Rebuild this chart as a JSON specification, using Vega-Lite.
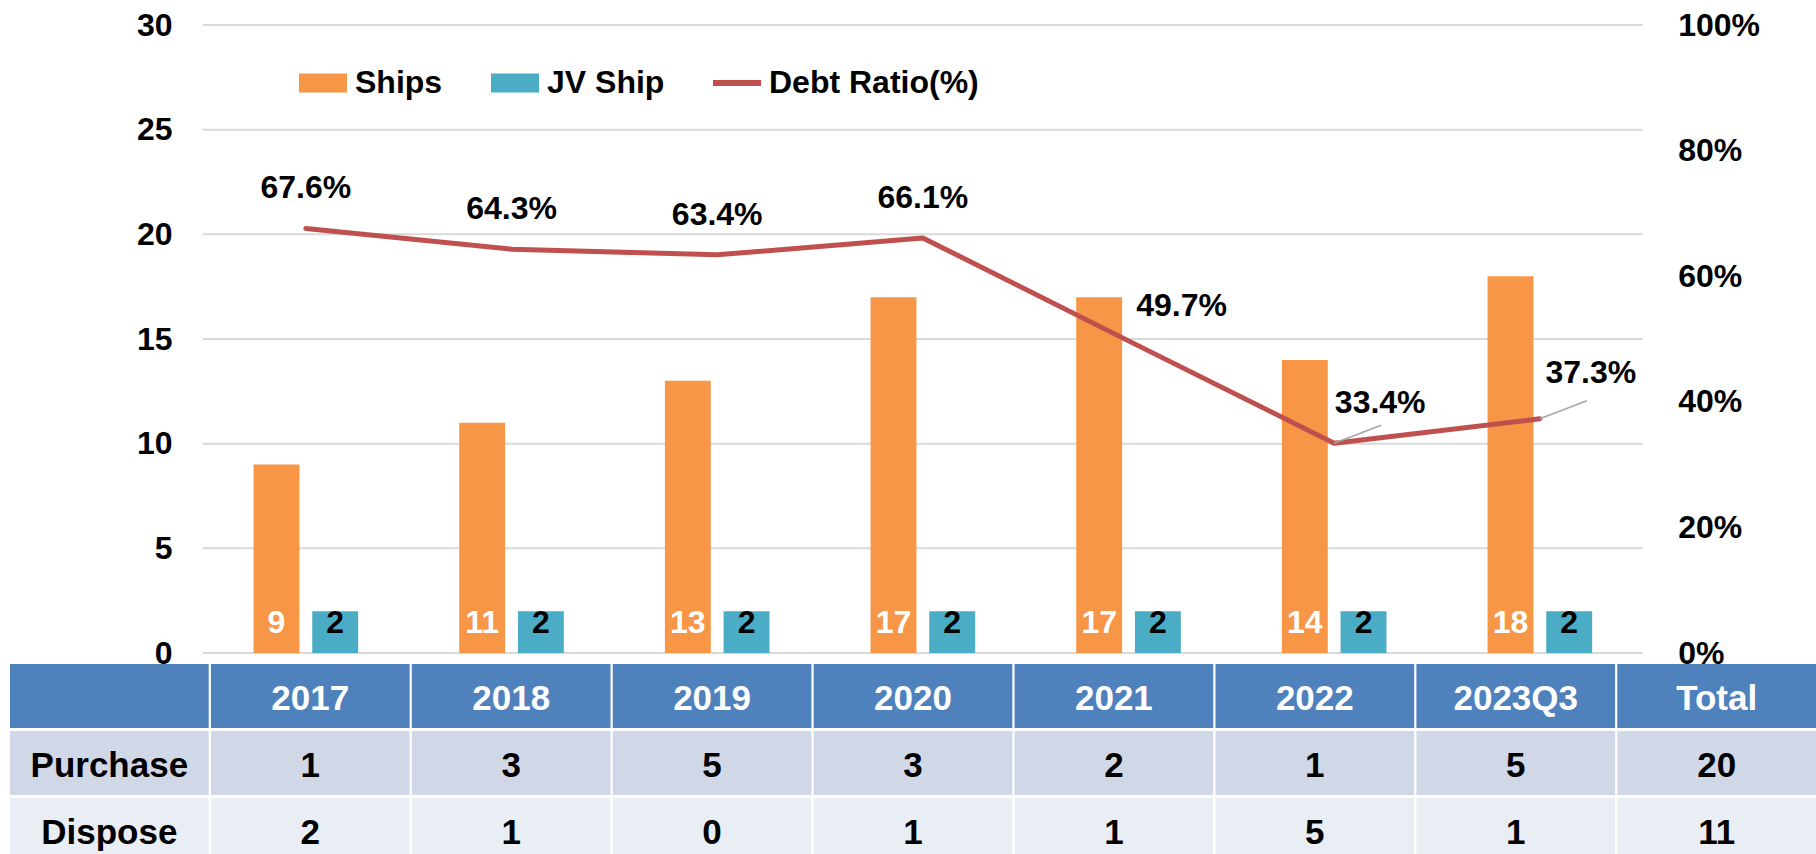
{
  "$schema": "https://vega.github.io/schema/vega-lite/v6.json",
  "background": "white",
  "padding": {"left": 10, "top": 9, "right": 0, "bottom": 0},
  "spacing": 11,
  "bounds": "flush",
  "config": {
    "view": {"stroke": null},
    "font": "Liberation Sans",
    "axis": {"labelFont": "Liberation Sans", "labelFontWeight": "bold", "labelFontSize": 32, "labelColor": "#000000"}
  },
  "datasets": {
    "ships": [
      {"year": "2017", "series": "Ships", "value": 9}, {"year": "2017", "series": "JV Ship", "value": 2},
      {"year": "2018", "series": "Ships", "value": 11}, {"year": "2018", "series": "JV Ship", "value": 2},
      {"year": "2019", "series": "Ships", "value": 13}, {"year": "2019", "series": "JV Ship", "value": 2},
      {"year": "2020", "series": "Ships", "value": 17}, {"year": "2020", "series": "JV Ship", "value": 2},
      {"year": "2021", "series": "Ships", "value": 17}, {"year": "2021", "series": "JV Ship", "value": 2},
      {"year": "2022", "series": "Ships", "value": 14}, {"year": "2022", "series": "JV Ship", "value": 2},
      {"year": "2023Q3", "series": "Ships", "value": 18}, {"year": "2023Q3", "series": "JV Ship", "value": 2}
    ],
    "grid": [{"value": 0}, {"value": 5}, {"value": 10}, {"value": 15}, {"value": 20}, {"value": 25}, {"value": 30}],
    "ratio": [
      {"year": "2017", "ratio": 0.676}, {"year": "2018", "ratio": 0.643}, {"year": "2019", "ratio": 0.634},
      {"year": "2020", "ratio": 0.661}, {"year": "2021", "ratio": 0.497}, {"year": "2022", "ratio": 0.334},
      {"year": "2023Q3", "ratio": 0.373}
    ],
    "table": [
      {"row": "header", "col": "label", "text": ""}, {"row": "header", "col": "2017", "text": "2017"},
      {"row": "header", "col": "2018", "text": "2018"}, {"row": "header", "col": "2019", "text": "2019"},
      {"row": "header", "col": "2020", "text": "2020"}, {"row": "header", "col": "2021", "text": "2021"},
      {"row": "header", "col": "2022", "text": "2022"}, {"row": "header", "col": "2023Q3", "text": "2023Q3"},
      {"row": "header", "col": "Total", "text": "Total"},
      {"row": "Purchase", "col": "label", "text": "Purchase"}, {"row": "Purchase", "col": "2017", "text": "1"},
      {"row": "Purchase", "col": "2018", "text": "3"}, {"row": "Purchase", "col": "2019", "text": "5"},
      {"row": "Purchase", "col": "2020", "text": "3"}, {"row": "Purchase", "col": "2021", "text": "2"},
      {"row": "Purchase", "col": "2022", "text": "1"}, {"row": "Purchase", "col": "2023Q3", "text": "5"},
      {"row": "Purchase", "col": "Total", "text": "20"},
      {"row": "Dispose", "col": "label", "text": "Dispose"}, {"row": "Dispose", "col": "2017", "text": "2"},
      {"row": "Dispose", "col": "2018", "text": "1"}, {"row": "Dispose", "col": "2019", "text": "0"},
      {"row": "Dispose", "col": "2020", "text": "1"}, {"row": "Dispose", "col": "2021", "text": "1"},
      {"row": "Dispose", "col": "2022", "text": "5"}, {"row": "Dispose", "col": "2023Q3", "text": "1"},
      {"row": "Dispose", "col": "Total", "text": "11"}
    ]
  },
  "resolve": {"scale": {"x": "independent", "y": "independent", "color": "independent"}},
  "vconcat": [
    {
      "width": 1806,
      "height": 628,
      "layer": [
        {
          "encoding": {
            "y": {"field": "value", "type": "quantitative",
                  "scale": {"domain": [0, 30], "nice": false, "zero": true},
                  "axis": {"orient": "left", "values": [0, 5, 10, 15, 20, 25, 30], "grid": false, "domain": false, "ticks": false, "tickSize": 0, "offset": -193, "labelPadding": 31, "title": null}}
          },
          "layer": [
            {
              "data": {"name": "grid"},
              "mark": {"type": "rule", "color": "#D9D9D9", "strokeWidth": 2, "xOffset": -102.83, "x2Offset": 102.83},
              "encoding": {
                "x": {"datum": "2017", "type": "nominal",
                      "scale": {"domain": ["2017", "2018", "2019", "2020", "2021", "2022", "2023Q3"], "paddingInner": 0, "paddingOuter": 0.8906, "align": 0.5269, "round": false},
                      "axis": null},
                "x2": {"datum": "2023Q3"}
              }
            },
            {
              "data": {"name": "ships"},
              "mark": {"type": "bar"},
              "encoding": {
                "x": {"field": "year", "type": "nominal",
                      "scale": {"domain": ["2017", "2018", "2019", "2020", "2021", "2022", "2023Q3"], "paddingInner": 0, "paddingOuter": 0.8906, "align": 0.5269, "round": false},
                      "axis": null},
                "xOffset": {"field": "series", "type": "nominal", "scale": {"domain": ["Ships", "JV Ship"], "paddingInner": 0.218, "paddingOuter": 0.861, "round": false}},
                "color": {"field": "series", "type": "nominal",
                          "scale": {"domain": ["Ships", "JV Ship", "Debt Ratio(%)"], "range": ["#F79646", "#4BACC6", "#C0504D"]},
                          "legend": {"orient": "none", "legendX": 289, "legendY": 34, "direction": "horizontal", "title": null,
                                     "symbolType": "M-1,-0.4H1V0.4H-1Z", "symbolSize": 2304, "symbolStrokeWidth": 0,
                                     "labelFont": "Liberation Sans", "labelFontSize": 32, "labelFontWeight": "bold", "labelColor": "#000000",
                                     "labelOffset": 8, "columnPadding": 48, "labelLimit": 0,
                                     "encode": {"symbols": {"update": {"shape": {"signal": "datum.value === 'Debt Ratio(%)' ? 'M-1,-0.12H1V0.12H-1Z' : 'M-1,-0.4H1V0.4H-1Z'"}}}}}}
              }
            },
            {
              "data": {"name": "ships"},
              "mark": {"type": "text", "font": "Liberation Sans", "fontSize": 32, "fontWeight": "bold", "baseline": "alphabetic", "dy": -20},
              "encoding": {
                "x": {"field": "year", "type": "nominal",
                      "scale": {"domain": ["2017", "2018", "2019", "2020", "2021", "2022", "2023Q3"], "paddingInner": 0, "paddingOuter": 0.8906, "align": 0.5269, "round": false},
                      "axis": null},
                "xOffset": {"field": "series", "type": "nominal", "scale": {"domain": ["Ships", "JV Ship"], "paddingInner": 0.218, "paddingOuter": 0.861, "round": false}},
                "y": {"datum": 0, "type": "quantitative"},
                "text": {"field": "value", "type": "quantitative"},
                "color": {"condition": {"test": "datum.series === 'Ships'", "value": "#FFFFFF"}, "value": "#000000"}
              }
            }
          ]
        },
        {
          "data": {"name": "ratio"},
          "encoding": {
            "x": {"field": "year", "type": "nominal",
                  "scale": {"domain": ["2017", "2018", "2019", "2020", "2021", "2022", "2023Q3"], "paddingInner": 0, "paddingOuter": 0.8906, "align": 0.5269, "round": false},
                  "axis": null},
            "y": {"field": "ratio", "type": "quantitative",
                  "scale": {"domain": [0, 1], "nice": false},
                  "axis": {"orient": "right", "values": [0, 0.2, 0.4, 0.6, 0.8, 1], "format": ".0%", "grid": false, "domain": false, "ticks": false, "tickSize": 0, "offset": -173.3, "labelPadding": 35, "title": null}}
          },
          "layer": [
            {
              "mark": {"type": "line", "strokeWidth": 5, "strokeCap": "round", "strokeJoin": "round"},
              "encoding": {
                "color": {"datum": "Debt Ratio(%)", "type": "nominal",
                          "scale": {"domain": ["Ships", "JV Ship", "Debt Ratio(%)"], "range": ["#F79646", "#4BACC6", "#C0504D"]}}
              }
            },
            {
              "transform": [{"filter": {"field": "year", "oneOf": ["2022", "2023Q3"]}}],
              "mark": {"type": "rule", "color": "#A6A6A6", "strokeWidth": 1.5, "x2Offset": 47, "y2Offset": -18},
              "encoding": {
                "x2": {"field": "year"},
                "y2": {"field": "ratio"}
              }
            },
            {
              "transform": [{"filter": {"field": "year", "oneOf": ["2017", "2018", "2019", "2020"]}}],
              "mark": {"type": "text", "font": "Liberation Sans", "fontSize": 32, "fontWeight": "bold", "dy": -40},
              "encoding": {"text": {"field": "ratio", "type": "quantitative", "format": ".1%"}, "color": {"value": "#000000"}}
            },
            {
              "transform": [{"filter": {"field": "year", "equal": "2021"}}],
              "mark": {"type": "text", "font": "Liberation Sans", "fontSize": 32, "fontWeight": "bold", "dx": 53, "dy": -35},
              "encoding": {"text": {"field": "ratio", "type": "quantitative", "format": ".1%"}, "color": {"value": "#000000"}}
            },
            {
              "transform": [{"filter": {"field": "year", "equal": "2022"}}],
              "mark": {"type": "text", "font": "Liberation Sans", "fontSize": 32, "fontWeight": "bold", "dx": 46, "dy": -40},
              "encoding": {"text": {"field": "ratio", "type": "quantitative", "format": ".1%"}, "color": {"value": "#000000"}}
            },
            {
              "transform": [{"filter": {"field": "year", "equal": "2023Q3"}}],
              "mark": {"type": "text", "font": "Liberation Sans", "fontSize": 32, "fontWeight": "bold", "dx": 51, "dy": -46},
              "encoding": {"text": {"field": "ratio", "type": "quantitative", "format": ".1%"}, "color": {"value": "#000000"}}
            }
          ]
        }
      ],
      "resolve": {"scale": {"y": "independent"}}
    },
    {
      "width": 1806,
      "height": 198,
      "data": {"name": "table"},
      "encoding": {
        "x": {"field": "col", "type": "nominal",
              "scale": {"domain": ["label", "2017", "2018", "2019", "2020", "2021", "2022", "2023Q3", "Total"], "paddingInner": 0.011, "paddingOuter": 0, "round": false},
              "axis": null},
        "y": {"field": "row", "type": "nominal",
              "scale": {"domain": ["header", "Purchase", "Dispose"], "paddingInner": 0.045, "paddingOuter": 0, "round": false},
              "axis": null}
      },
      "layer": [
        {
          "mark": {"type": "rect"},
          "encoding": {
            "color": {"field": "row", "type": "nominal",
                      "scale": {"domain": ["header", "Purchase", "Dispose"], "range": ["#4F81BD", "#D0D8E8", "#E9EDF4"]},
                      "legend": null}
          }
        },
        {
          "mark": {"type": "text", "font": "Liberation Sans", "fontSize": 35, "fontWeight": "bold", "dy": 3},
          "encoding": {
            "text": {"field": "text"},
            "color": {"condition": {"test": "datum.row === 'header'", "value": "#FFFFFF"}, "value": "#000000"}
          }
        }
      ]
    }
  ]
}
